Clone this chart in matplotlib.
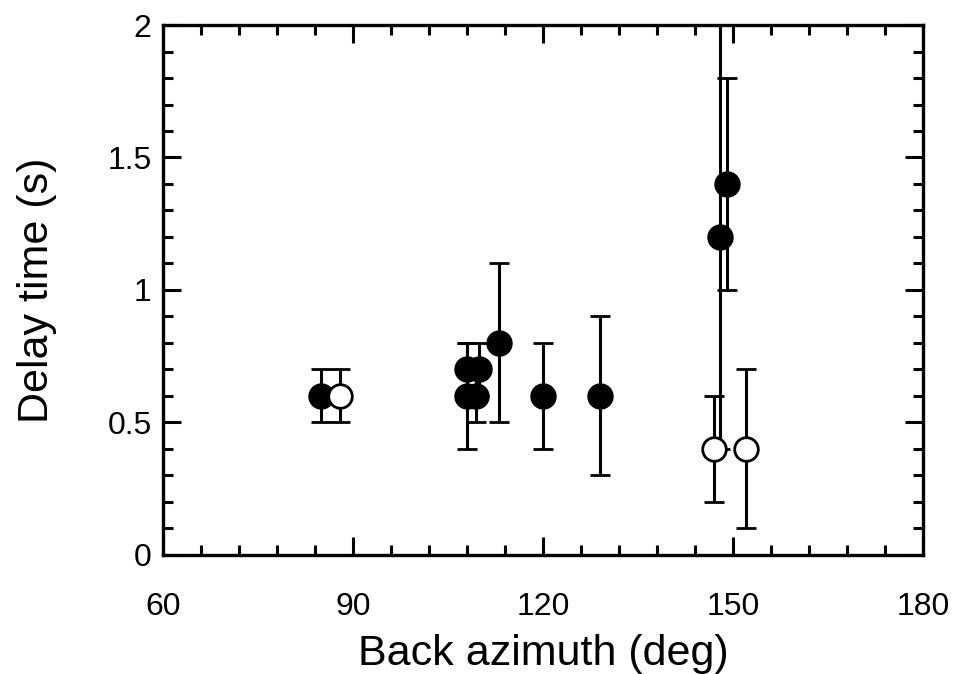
import numpy as np
import matplotlib.pyplot as plt
from matplotlib.ticker import MultipleLocator

plt.rcParams['font.family'] = ['Liberation Sans', 'DejaVu Sans']

# filled symbols
az_f = [85, 108, 108, 109.5, 110, 113, 120, 129, 148, 149]
dt_f = [0.6, 0.6, 0.7, 0.6, 0.7, 0.8, 0.6, 0.6, 1.2, 1.4]
err_f = [0.1, 0.2, 0.1, 0.1, 0.1, 0.3, 0.2, 0.3, 0.8, 0.4]

# open symbols
az_o = [88, 147, 152]
dt_o = [0.6, 0.4, 0.4]
err_o = [0.1, 0.2, 0.3]

fig = plt.figure(figsize=(9.57, 6.74), dpi=100)
ax = fig.add_axes([0.170, 0.1766, 0.7945, 0.7863])

ax.errorbar(az_f, dt_f, yerr=err_f, fmt='o', color='black', ms=18,
            mfc='black', mec='black', elinewidth=2.2, capsize=7, capthick=2,
            zorder=3)
ax.errorbar(az_o, dt_o, yerr=err_o, fmt='o', color='black', ms=17,
            mfc='white', mec='black', mew=2, elinewidth=2.2, capsize=7,
            capthick=2, zorder=3)

ax.set_xlim(60, 180)
ax.set_ylim(0, 2)
ax.xaxis.set_major_locator(MultipleLocator(30))
ax.xaxis.set_minor_locator(MultipleLocator(6))
ax.yaxis.set_minor_locator(MultipleLocator(0.1))
ax.set_yticks([0, 0.5, 1, 1.5, 2])
ax.set_yticklabels(['0', '0.5', '1', '1.5', '2'])

ax.tick_params(which='both', direction='in', top=True, right=True,
               labelsize=23, width=2.2)
ax.tick_params(axis='x', pad=27)
ax.tick_params(axis='y', pad=8)
ax.tick_params(which='major', length=13)
ax.tick_params(which='minor', length=7)
for s in ax.spines.values():
    s.set_linewidth(2.4)

ax.set_xlabel('Back azimuth (deg)', fontsize=31, labelpad=8)
ax.set_ylabel('Delay time (s)', fontsize=31, labelpad=36)

plt.savefig('out.png', dpi=100)
